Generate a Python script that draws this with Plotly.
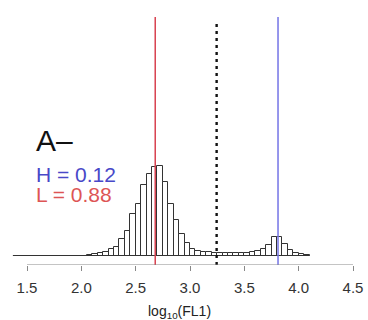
import plotly.graph_objects as go

# ---- data ----
bin_lo = [2.05, 2.10, 2.15, 2.20, 2.25, 2.30, 2.35, 2.40, 2.45, 2.50,
          2.55, 2.60, 2.65, 2.70, 2.75, 2.80, 2.85, 2.90, 2.95, 3.00,
          3.05, 3.10, 3.15, 3.20, 3.25, 3.30, 3.35, 3.40, 3.45, 3.50,
          3.55, 3.60, 3.65, 3.70, 3.75, 3.80, 3.85, 3.90, 3.95, 4.00,
          4.05]
counts = [1, 2, 2.5, 4, 6.5, 9, 17, 25, 42, 52,
          71, 82, 89, 90, 74, 52, 36, 22, 13, 7,
          5, 4, 3.5, 3, 3, 3, 3, 3, 3, 3,
          3.5, 4.5, 7, 11, 19, 19, 12, 6, 3, 1.5,
          0.5]
bin_width = 0.05
hist_range = [1.37, 4.10]          # extent of the histogram (empty bins drawn as baseline)
low_mean = 2.68                    # red line (L)
high_mean = 3.81                   # blue line (H)
threshold = 3.245                  # dashed line
tick_vals = [1.5, 2.0, 2.5, 3.0, 3.5, 4.0, 4.5]
tick_text = ["1.5", "2.0", "2.5", "3.0", "3.5", "4.0", "4.5"]
panel_label = "A\u2013"
h_text = "H = 0.12"
l_text = "L = 0.88"
x_title = "log<sub>10</sub>(FL1)"

FONT = "Liberation Sans, Arial, Helvetica, sans-serif"
RED = "#d8414f"
BLUE = "#7474e6"

YMIN, YMAX = -9.5, 238.7
XMIN, XMAX = 1.2515, 4.638
PX = 108.67      # pixels per x unit
BASE = 255.7     # pixel row of count 0

fig = go.Figure()

# baseline of histogram
fig.add_trace(go.Scatter(x=hist_range, y=[0, 0], mode="lines",
                         line=dict(color="#333333", width=1), hoverinfo="skip"))

centers = [b + bin_width / 2 for b in bin_lo]
fig.add_trace(go.Bar(x=centers, y=counts, width=bin_width,
                     marker=dict(color="white", line=dict(color="#333333", width=1))))

# vertical lines
fig.add_trace(go.Scatter(x=[low_mean, low_mean], y=[YMIN, YMAX], mode="lines",
                         line=dict(color=RED, width=1.5)))
fig.add_trace(go.Scatter(x=[high_mean, high_mean], y=[YMIN, YMAX], mode="lines",
                         line=dict(color=BLUE, width=1.5)))
fig.add_trace(go.Scatter(x=[threshold, threshold], y=[YMIN, YMAX - 6], mode="lines",
                         line=dict(color="#111111", width=2.4, dash="3px,4px")))

# axis line from first to last tick
fig.add_shape(type="line", x0=tick_vals[0], x1=tick_vals[-1], y0=YMIN, y1=YMIN,
              xref="x", yref="y", line=dict(color="#888888", width=1))

fig.add_annotation(x=XMIN + 34 / PX, y=BASE - 141, xref="x", yref="y", text=panel_label,
                   showarrow=False, xanchor="left", yanchor="middle",
                   font=dict(family=FONT, size=30, color="#111111"))
fig.add_annotation(x=XMIN + 34 / PX, y=BASE - 174.5, xref="x", yref="y", text=h_text,
                   showarrow=False, xanchor="left", yanchor="middle",
                   font=dict(family=FONT, size=21, color="#4848c8"))
fig.add_annotation(x=XMIN + 34 / PX, y=BASE - 195, xref="x", yref="y", text=l_text,
                   showarrow=False, xanchor="left", yanchor="middle",
                   font=dict(family=FONT, size=21, color="#dd5555"))
fig.add_annotation(x=XMIN + 180 / PX, y=-0.19, xref="x", yref="paper", text=x_title,
                   showarrow=False, xanchor="center", yanchor="middle",
                   font=dict(family=FONT, size=14, color="#222222"))

fig.update_layout(
    width=368, height=320,
    margin=dict(l=0, r=0, t=17, b=55),
    paper_bgcolor="white", plot_bgcolor="white",
    showlegend=False, bargap=0,
    xaxis=dict(range=[XMIN, XMAX], showgrid=False, zeroline=False, showline=False,
               tickmode="array", tickvals=tick_vals, ticktext=tick_text,
               ticks="outside", ticklen=5, tickcolor="#888888", tickwidth=1,
               ticklabelstandoff=4,
               tickfont=dict(family=FONT, size=15, color="#333333")),
    yaxis=dict(range=[YMIN, YMAX], visible=False),
)

fig.write_html("out.html", config={"displayModeBar": False},
               post_script="document.body.style.margin='0';document.body.style.padding='0';")
